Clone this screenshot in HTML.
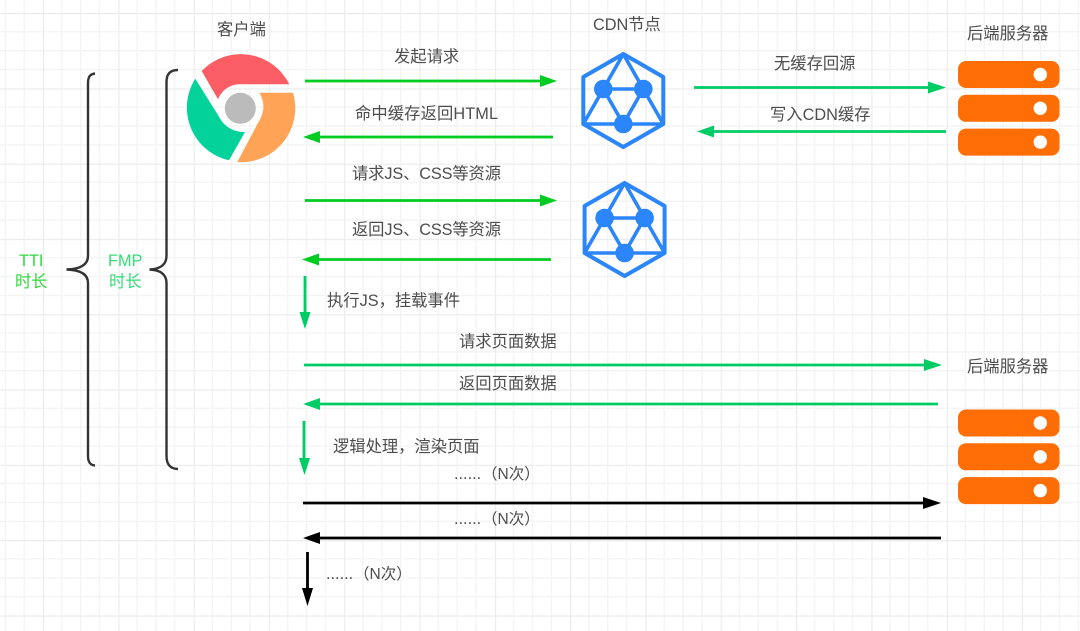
<!DOCTYPE html>
<html><head><meta charset="utf-8"><style>
html,body{margin:0;padding:0;background:#fff}
svg{display:block;filter:blur(0.35px)}
text{font-family:"Liberation Sans","Noto Sans CJK SC",sans-serif;font-size:16.3px;fill:#4d4d4d}
tspan.n{font-size:15.5px}
</style></head><body>
<svg width="1080" height="631" viewBox="0 0 1080 631" xmlns="http://www.w3.org/2000/svg">
<defs>
<pattern id="g" x="43" y="13" width="75.3" height="75.3" patternUnits="userSpaceOnUse">
<path d="M18.8 0V75.3M37.65 0V75.3M56.5 0V75.3M0 18.8H75.3M0 37.65H75.3M0 56.5H75.3" stroke="#f4f4f4" stroke-width="1.4" fill="none"/>
<path d="M0 0V75.3M0 0H75.3" stroke="#ececec" stroke-width="2.4" fill="none"/>
</pattern>
<g id="hex">
<path d="M0 -46L40 -23V24L0 47L-40 24V-23Z" fill="none" stroke="#2b86fb" stroke-width="4" stroke-linejoin="round"/>
<path d="M0 -46L-40 24H40ZM-20 -11H20M-20 -11L0 24L20 -11" fill="none" stroke="#2b86fb" stroke-width="3.6" stroke-linejoin="round"/>
<circle cx="-20" cy="-11" r="9.3" fill="#2b86fb"/><circle cx="20" cy="-11" r="9.3" fill="#2b86fb"/><circle cx="0" cy="24" r="9.3" fill="#2b86fb"/>
</g>
<g id="srv">
<rect x="958" y="0" width="101.5" height="27" rx="8" fill="#ff6d05"/><circle cx="1040.3" cy="13.500" r="6.7" fill="#fff"/>
<rect x="958" y="33.8" width="101.5" height="27" rx="8" fill="#ff6d05"/><circle cx="1040.3" cy="47.3" r="6.7" fill="#fff"/>
<rect x="958" y="67.6" width="101.5" height="27" rx="8" fill="#ff6d05"/><circle cx="1040.3" cy="81.1" r="6.7" fill="#fff"/>
</g>
</defs>
<rect width="1080" height="631" fill="#fff"/>
<rect width="1080" height="631" fill="url(#g)"/>

<!-- braces -->
<path d="M95 73.500C90 74 88 77 88 83V256C88 264 82 269 66.500 269.500C82 270 88 275 88 283V456C88 462 90 465 95 465.500" fill="none" stroke="#333" stroke-width="2.4"/>
<path d="M178 70C170 70 166.500 74 166.500 82V256C166.500 264 161 269 149.500 269.500C161 270 166.500 275 166.500 283V456C166.500 464 170 469 178 469" fill="none" stroke="#333" stroke-width="2.4"/>

<!-- chrome -->
<path d="M201.7 71A54 54 0 0 1 289.3 84.3H240C230 84.3 222 90 218 99.3Z" fill="#fb5d65"/>
<path d="M195.3 78.7L218 115C224 127 233 132 245 132L229 160.3A54 54 0 0 1 195.3 78.7Z" fill="#03d29b"/>
<path d="M259.3 92.7H293A54 54 0 0 1 237.3 162L258 123C265 112 265 102 259.3 92.7Z" fill="#ffa456"/>
<circle cx="240.3" cy="108.3" r="15.500" fill="#bbb"/>

<use href="#hex" x="623.3" y="100"/>
<use href="#hex" x="624.6" y="229"/>
<use href="#srv" y="61"/>
<use href="#srv" y="409.5"/>

<!-- arrows -->
<g stroke-width="2.8" fill="none">
<path d="M305 81H545M553 137H314M305 200.500H545M551 259.500H314" stroke="#0c2"/>
<path d="M694 87.500H932M946 131.500H708M304 365H930M938 404H315M305 276V316M304 421V462" stroke="#00cc66"/>
<path d="M303 503H930M941 538H315M307.500 552V593" stroke="#000"/>
</g>
<g fill="#00cc22">
<path d="M557 81L540 75V87Z"/><path d="M303 137L320 131V143Z"/><path d="M557 200.500L540 194.500V206.500Z"/><path d="M302 259.500L319 253.500V265.500Z"/>
</g>
<g fill="#00cc66">
<path d="M946 87.500L928 81.500V93.500Z"/><path d="M697 131.500L714 125.500V137.500Z"/><path d="M942 365L924 359V371Z"/><path d="M303 404L320 398V410Z"/>
<path d="M305 329L299.500 312H310.500Z"/><path d="M304.500 475L299 458H310Z"/>
</g>
<g fill="#000">
<path d="M941 503L923 497V509Z"/><path d="M303 538L320 532V544Z"/><path d="M307.500 606L302 588H313Z"/>
</g>

<!-- labels -->
<text x="217" y="35">客户端</text>
<text x="593" y="30">CDN节点</text>
<text x="967" y="39">后端服务器</text>
<text x="394" y="62">发起请求</text>
<text x="355" y="119" textLength="143">命中缓存返回HTML</text>
<text x="774" y="69">无缓存回源</text>
<text x="770" y="120">写入CDN缓存</text>
<text x="352" y="179" textLength="149">请求JS、CSS等资源</text>
<text x="352" y="235" textLength="149">返回JS、CSS等资源</text>
<text x="327" y="306">执行JS，挂载事件</text>
<text x="459" y="347">请求页面数据</text>
<text x="459" y="389">返回页面数据</text>
<text x="967" y="372">后端服务器</text>
<text x="333" y="452">逻辑处理，渲染页面</text>
<text x="454" y="479">......<tspan class="n" x="482">（N次）</tspan></text>
<text x="454" y="524">......<tspan class="n" x="482">（N次）</tspan></text>
<text x="326" y="579">......<tspan class="n" x="354">（N次）</tspan></text>
<text x="19" y="266" style="fill:#33d63f">TTI</text>
<text x="15" y="287" style="fill:#33d63f">时长</text>
<text x="108" y="266" style="fill:#33dd77">FMP</text>
<text x="109" y="287" style="fill:#33dd77">时长</text>
</svg>
</body></html>
